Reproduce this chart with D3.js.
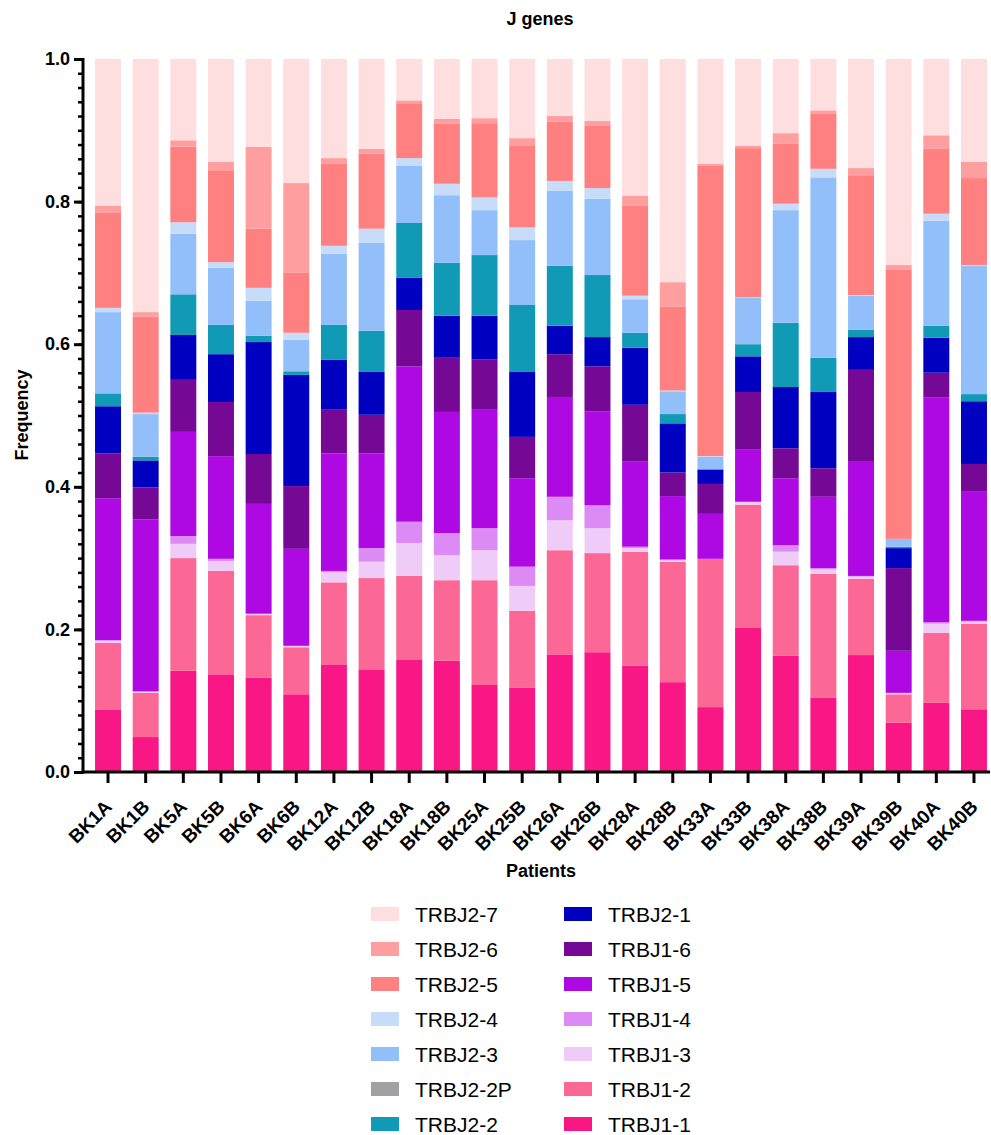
<!DOCTYPE html>
<html>
<head>
<meta charset="utf-8">
<script src="https://cdn.jsdelivr.net/npm/d3@7"></script>
<style>
  html, body { margin: 0; padding: 0; background: #fff; }
  svg { display: block; font-family: "Liberation Sans", Arial, sans-serif; }
</style>
</head>
<body>
<svg id="chart" width="991" height="1135"></svg>
<script>
// Patients (x categories)
const patients = ["BK1A","BK1B","BK5A","BK5B","BK6A","BK6B","BK12A","BK12B","BK18A","BK18B",
  "BK25A","BK25B","BK26A","BK26B","BK28A","BK28B","BK33A","BK33B","BK38A","BK38B",
  "BK39A","BK39B","BK40A","BK40B"];

// J gene frequencies per patient, stacked bottom (TRBJ1-1) to top (TRBJ2-7)
const TRBJ1_1 = [0.087,0.049,0.142,0.137,0.132,0.109,0.151,0.144,0.158,0.156,0.122,0.118,0.165,0.168,0.149,0.126,0.091,0.202,0.163,0.104,0.164,0.069,0.097,0.088];
const TRBJ1_2 = [0.094,0.062,0.158,0.145,0.088,0.066,0.115,0.128,0.117,0.113,0.147,0.108,0.146,0.139,0.160,0.169,0.208,0.173,0.127,0.174,0.107,0.040,0.098,0.120];
const TRBJ1_3 = [0.003,0.002,0.020,0.014,0.002,0.002,0.014,0.023,0.046,0.035,0.042,0.035,0.042,0.035,0.005,0.002,0.000,0.004,0.019,0.006,0.003,0.002,0.013,0.003];
const TRBJ1_4 = [0.001,0.000,0.011,0.003,0.000,0.000,0.002,0.019,0.030,0.031,0.031,0.027,0.033,0.032,0.002,0.001,0.000,0.000,0.009,0.002,0.001,0.000,0.002,0.001];
const TRBJ1_5 = [0.199,0.241,0.146,0.144,0.154,0.136,0.165,0.133,0.218,0.170,0.166,0.124,0.140,0.132,0.120,0.089,0.063,0.073,0.094,0.100,0.160,0.059,0.315,0.182];
const TRBJ1_6 = [0.063,0.045,0.073,0.076,0.070,0.088,0.062,0.054,0.079,0.077,0.071,0.058,0.060,0.063,0.079,0.033,0.042,0.081,0.042,0.040,0.129,0.116,0.035,0.038];
const TRBJ2_1 = [0.066,0.038,0.063,0.067,0.157,0.156,0.069,0.060,0.045,0.058,0.061,0.091,0.040,0.041,0.080,0.069,0.020,0.050,0.086,0.107,0.046,0.028,0.049,0.088];
const TRBJ2_2 = [0.018,0.005,0.057,0.041,0.009,0.005,0.049,0.058,0.077,0.074,0.085,0.094,0.084,0.087,0.021,0.013,0.001,0.017,0.090,0.048,0.010,0.002,0.017,0.010];
const TRBJ2_2P = [0,0,0,0,0,0,0,0,0,0,0,0,0,0,0,0,0,0,0,0,0,0,0,0];
const TRBJ2_3 = [0.114,0.060,0.085,0.080,0.049,0.044,0.100,0.123,0.080,0.095,0.063,0.091,0.105,0.107,0.047,0.032,0.017,0.065,0.158,0.253,0.048,0.011,0.147,0.180];
const TRBJ2_4 = [0.006,0.002,0.016,0.008,0.018,0.010,0.011,0.020,0.011,0.016,0.018,0.018,0.014,0.015,0.005,0.001,0.001,0.001,0.009,0.012,0.001,0.000,0.010,0.001];
const TRBJ2_5 = [0.134,0.135,0.106,0.129,0.083,0.084,0.115,0.105,0.077,0.084,0.104,0.114,0.083,0.088,0.126,0.118,0.407,0.209,0.084,0.077,0.168,0.378,0.091,0.122];
const TRBJ2_6 = [0.009,0.006,0.009,0.012,0.115,0.126,0.008,0.007,0.004,0.007,0.007,0.011,0.008,0.006,0.014,0.034,0.003,0.003,0.015,0.005,0.010,0.006,0.019,0.023];
const TRBJ2_7 = [0.206,0.355,0.114,0.144,0.123,0.174,0.139,0.126,0.058,0.084,0.083,0.111,0.080,0.087,0.192,0.313,0.147,0.122,0.104,0.072,0.153,0.289,0.107,0.144];

const genes = ["TRBJ1-1","TRBJ1-2","TRBJ1-3","TRBJ1-4","TRBJ1-5","TRBJ1-6","TRBJ2-1",
  "TRBJ2-2","TRBJ2-2P","TRBJ2-3","TRBJ2-4","TRBJ2-5","TRBJ2-6","TRBJ2-7"];
const geneValues = [TRBJ1_1,TRBJ1_2,TRBJ1_3,TRBJ1_4,TRBJ1_5,TRBJ1_6,TRBJ2_1,
  TRBJ2_2,TRBJ2_2P,TRBJ2_3,TRBJ2_4,TRBJ2_5,TRBJ2_6,TRBJ2_7];
const geneColors = ["#F81784","#FB6895","#EFCCF7","#DC8BF5","#AE09E2","#760896","#0000C0",
  "#109AB5","#A0A0A5","#92BFF9","#C6DCF8","#FF8080","#FF9E9E","#FFDEDF"];

// Legend layout: two columns, as listed
const legendCol1 = ["TRBJ2-7","TRBJ2-6","TRBJ2-5","TRBJ2-4","TRBJ2-3","TRBJ2-2P","TRBJ2-2"];
const legendCol2 = ["TRBJ2-1","TRBJ1-6","TRBJ1-5","TRBJ1-4","TRBJ1-3","TRBJ1-2","TRBJ1-1"];

const yTicks = [0, 0.2, 0.4, 0.6, 0.8, 1.0];

// ---- table for d3.stack ----
const rows = patients.map((p, i) => {
  const r = { patient: p };
  genes.forEach((g, k) => { r[g] = geneValues[k][i]; });
  return r;
});
const series = d3.stack().keys(genes)(rows);
const color = d3.scaleOrdinal().domain(genes).range(geneColors);

const svg = d3.select("#chart");
const axisLeftX = 83, axisRight = 990, y0px = 772, y1px = 59;

const x = d3.scaleBand()
  .domain(patients)
  .range([89.2, 992.8])
  .paddingInner(0.31)
  .paddingOuter(0.155);

const y = d3.scaleLinear().domain([0, 1]).range([y0px, y1px]);

// bars
svg.append("g")
  .selectAll("g")
  .data(series)
  .join("g")
  .attr("fill", d => color(d.key))
  .selectAll("rect")
  .data(d => d)
  .join("rect")
  .attr("x", d => x(d.data.patient))
  .attr("width", x.bandwidth())
  .attr("y", d => y(d[1]))
  .attr("height", d => Math.max(0, y(d[0]) - y(d[1])));

// y axis: major ticks with labels, minor ticks every 0.02
const yAxisG = svg.append("g").attr("transform", `translate(${axisLeftX},0)`);
yAxisG.append("g")
  .call(d3.axisLeft(y).tickValues(d3.range(0, 1.0001, 0.02)).tickSize(5).tickFormat(""))
  .call(g => g.select(".domain").remove())
  .call(g => g.selectAll("line").attr("stroke", "#000").attr("stroke-width", 2.5));
yAxisG.append("g")
  .call(d3.axisLeft(y).tickValues(yTicks).tickSize(9).tickPadding(4).tickFormat(d3.format(".1f")))
  .call(g => g.select(".domain").remove())
  .call(g => g.selectAll("line").attr("stroke", "#000").attr("stroke-width", 3))
  .call(g => g.selectAll("text")
    .attr("font-family", "Liberation Sans, Arial, sans-serif")
    .attr("font-size", 18).attr("font-weight", "bold").attr("fill", "#000"));
svg.append("line")
  .attr("x1", axisLeftX).attr("x2", axisLeftX)
  .attr("y1", y1px - 1).attr("y2", y0px + 1.5)
  .attr("stroke", "#000").attr("stroke-width", 3);

// x axis with labels rotated 45 degrees, anchored at their end under each tick
const xAxisG = svg.append("g").attr("transform", `translate(0,${y0px})`);
xAxisG.call(d3.axisBottom(x).tickSize(11).tickPadding(0))
  .call(g => g.select(".domain").remove())
  .call(g => g.selectAll("line").attr("stroke", "#000").attr("stroke-width", 3))
  .call(g => g.selectAll("text")
    .attr("font-family", "Liberation Sans, Arial, sans-serif")
    .attr("font-size", 19).attr("font-weight", "bold").attr("fill", "#000")
    .attr("text-anchor", "end")
    .attr("x", 0).attr("y", 0).attr("dy", 0)
    .attr("transform", "translate(5,36) rotate(-45)"));
svg.append("line")
  .attr("x1", axisLeftX - 1.5).attr("x2", axisRight)
  .attr("y1", y0px).attr("y2", y0px)
  .attr("stroke", "#000").attr("stroke-width", 3);

// titles
svg.append("text")
  .attr("x", 540).attr("y", 25)
  .attr("text-anchor", "middle")
  .attr("font-size", 18).attr("font-weight", "bold")
  .text("J genes");
svg.append("text")
  .attr("x", 541).attr("y", 877)
  .attr("text-anchor", "middle")
  .attr("font-size", 18).attr("font-weight", "bold")
  .text("Patients");
svg.append("text")
  .attr("transform", "translate(28,415) rotate(-90)")
  .attr("text-anchor", "middle")
  .attr("font-size", 18).attr("font-weight", "bold")
  .text("Frequency");

// legend
const legend = svg.append("g");
[[legendCol1, 371], [legendCol2, 564]].forEach(([col, lx]) => {
  col.forEach((g, i) => {
    const cy = 914 + i * 35;
    legend.append("rect")
      .attr("x", lx).attr("y", cy - 7)
      .attr("width", 28).attr("height", 14)
      .attr("fill", color(g));
    legend.append("text")
      .attr("x", lx + 44).attr("y", cy)
      .attr("dy", "0.36em")
      .attr("font-size", 21)
      .attr("fill", "#000")
      .text(g);
  });
});
</script>
</body>
</html>
